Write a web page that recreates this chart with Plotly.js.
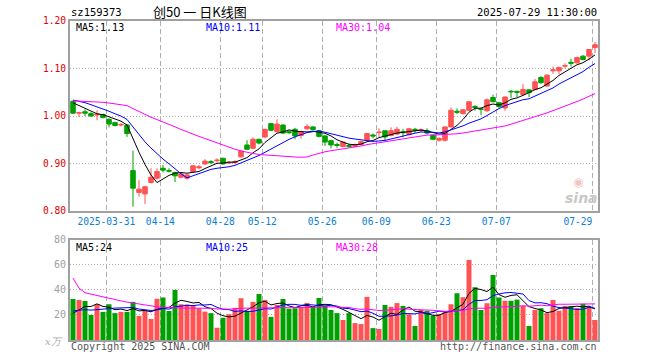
<!DOCTYPE html>
<html><head><meta charset="utf-8">
<script src="https://cdn.plot.ly/plotly-3.0.1.min.js"></script>
<style>html,body{margin:0;padding:0;background:#fff}#chart{width:660px;height:360px}</style>
</head><body><div id="chart"></div>
<script>
// ---- data ----
const dates = ["2025-03-21","2025-03-24","2025-03-25","2025-03-26","2025-03-27","2025-03-28","2025-03-31","2025-04-01","2025-04-02","2025-04-03","2025-04-07","2025-04-08","2025-04-09","2025-04-10","2025-04-11","2025-04-14","2025-04-15","2025-04-16","2025-04-17","2025-04-18","2025-04-21","2025-04-22","2025-04-23","2025-04-24","2025-04-25","2025-04-28","2025-04-29","2025-04-30","2025-05-06","2025-05-07","2025-05-08","2025-05-09","2025-05-12","2025-05-13","2025-05-14","2025-05-15","2025-05-16","2025-05-19","2025-05-20","2025-05-21","2025-05-22","2025-05-23","2025-05-26","2025-05-27","2025-05-28","2025-05-29","2025-05-30","2025-06-03","2025-06-04","2025-06-05","2025-06-06","2025-06-09","2025-06-10","2025-06-11","2025-06-12","2025-06-13","2025-06-16","2025-06-17","2025-06-18","2025-06-19","2025-06-20","2025-06-23","2025-06-24","2025-06-25","2025-06-26","2025-06-27","2025-06-30","2025-07-01","2025-07-02","2025-07-03","2025-07-04","2025-07-07","2025-07-08","2025-07-09","2025-07-10","2025-07-11","2025-07-14","2025-07-15","2025-07-16","2025-07-17","2025-07-18","2025-07-21","2025-07-22","2025-07-23","2025-07-24","2025-07-25","2025-07-28","2025-07-29"];

const open = [1.031,1.006,1.009,1.005,1.002,1.003,0.993,0.986,0.981,0.981,
0.885,0.839,0.836,0.860,0.869,0.890,0.885,0.881,0.871,0.869,
0.883,0.891,0.899,0.904,0.906,0.911,0.901,0.902,0.914,0.939,
0.932,0.951,0.956,0.984,0.967,0.981,0.967,0.972,0.959,0.973,
0.977,0.969,0.958,0.948,0.940,0.936,0.938,0.936,0.940,0.949,
0.960,0.965,0.969,0.959,0.962,0.967,0.961,0.972,0.970,0.969,
0.960,0.949,0.949,0.977,1.010,1.005,1.012,1.020,1.015,1.011,
1.039,1.028,1.017,1.052,1.052,1.045,1.055,1.056,1.081,1.063,
1.095,1.095,1.105,1.113,1.112,1.126,1.126,1.144];

const high = [1.033,1.009,1.014,1.008,1.012,1.005,0.995,0.988,0.985,0.983,
0.927,0.865,0.853,0.890,0.890,0.897,0.890,0.883,0.880,0.879,
0.896,0.897,0.909,0.907,0.911,0.912,0.905,0.907,0.928,0.949,
0.955,0.952,0.973,0.985,0.993,0.982,0.970,0.975,0.969,0.983,
0.978,0.971,0.960,0.950,0.944,0.947,0.941,0.942,0.948,0.964,
0.963,0.974,0.970,0.976,0.977,0.973,0.975,0.975,0.974,0.974,
0.961,0.955,0.978,1.018,1.016,1.015,1.031,1.023,1.016,1.037,
1.045,1.030,1.041,1.055,1.053,1.067,1.056,1.078,1.084,1.088,
1.104,1.104,1.111,1.121,1.125,1.128,1.141,1.156];

const low = [1.004,0.998,1.000,0.998,0.991,0.995,0.976,0.978,0.978,0.956,
0.809,0.830,0.815,0.858,0.866,0.881,0.881,0.861,0.869,0.866,
0.882,0.888,0.897,0.899,0.902,0.898,0.899,0.899,0.912,0.928,
0.930,0.940,0.953,0.968,0.965,0.962,0.962,0.951,0.952,0.971,
0.970,0.955,0.937,0.932,0.933,0.934,0.933,0.934,0.938,0.947,
0.953,0.956,0.948,0.957,0.960,0.955,0.959,0.965,0.966,0.961,
0.949,0.946,0.946,0.976,1.004,1.003,1.011,1.011,1.002,1.009,
1.029,1.017,1.011,1.038,1.040,1.043,1.040,1.054,1.068,1.062,
1.089,1.088,1.100,1.104,1.110,1.117,1.117,1.133];

const close = [1.006,1.007,1.006,1.000,1.004,0.997,0.983,0.980,0.982,0.963,
0.848,0.846,0.851,0.871,0.883,0.886,0.884,0.874,0.878,0.876,
0.895,0.893,0.905,0.902,0.907,0.899,0.902,0.904,0.926,0.930,
0.951,0.943,0.972,0.970,0.983,0.964,0.965,0.958,0.967,0.978,
0.971,0.957,0.945,0.939,0.938,0.945,0.936,0.939,0.946,0.963,
0.958,0.966,0.956,0.969,0.972,0.965,0.973,0.970,0.971,0.964,
0.951,0.953,0.977,1.012,1.008,1.013,1.030,1.018,1.014,1.034,
1.030,1.020,1.040,1.051,1.050,1.056,1.049,1.072,1.070,1.086,
1.097,1.102,1.106,1.111,1.123,1.119,1.140,1.150];

// volume, 万
const volume = [32.8,32.0,31.2,20.0,28.6,22.5,28.6,21.5,22.5,22.5,
30.5,19.3,23.5,16.8,33.0,34.0,23.2,40.0,28.6,28.4,
28.0,25.3,22.7,21.5,9.8,17.8,20.6,25.7,33.4,22.5,
30.5,36.8,32.0,18.5,28.0,32.8,25.0,25.4,25.7,29.6,
26.5,33.6,27.3,24.0,21.5,16.0,21.5,13.5,12.8,34.5,
9.5,8.8,28.0,26.5,29.5,27.3,20.5,11.2,24.2,23.3,
19.6,20.6,22.2,28.6,37.4,34.2,64.0,42.2,24.0,29.4,
52.0,34.0,31.4,31.4,32.3,27.2,11.2,24.0,25.4,21.5,
32.0,23.4,27.2,27.2,25.5,29.0,26.6,16.0];

// the 29 sessions before the first bar (estimated from where the moving averages start)
const preClose = [1.018,1.022,1.020,1.025,1.021,1.028,1.035,1.030,1.026,1.033,
1.038,1.041,1.036,1.030,1.027,1.034,1.040,1.044,1.039,1.035,
1.031,1.037,1.042,1.046,1.040,1.036,1.033,1.030,1.034];
const preVolume = [275,142,55,58,52,58,57,58,52,54,
43,47,41,50,45,36,40,34,29,28,
27,26,24,25,24,19,17,20,18];

const tickDates = ["2025-03-31","2025-04-14","2025-04-28","2025-05-12","2025-05-26","2025-06-09","2025-06-23","2025-07-07","2025-07-29"];
const tickLabels = ["2025-03-31","04-14","04-28","05-12","05-26","06-09","06-23","07-07","07-29\u00a0\u00a0\u00a0\u00a0\u00a0"];

const maLabelsPrice = ["MA5:1.13","MA10:1.11","MA30:1.04"];
const maLabelsVol = ["MA5:24","MA10:25","MA30:28"];

// ---- build ----
const RED = "#ff5252", GREEN = "#00a000";
const MA_COLORS = ["#000000","#0000ff","#ff00ff"];
const xIdx = dates.map((d, i) => i);

function movingAvg(pre, arr, n) {
  const full = pre.concat(arr);
  return arr.map((_, i) => {
    let s = 0;
    for (let k = 0; k < n; k++) s += full[pre.length + i - k];
    return s / n;
  });
}

const gridPos = tickDates.map(d => dates.indexOf(d) - 0.45);
const volColors = close.map((c, i) => c >= open[i] ? RED : GREEN);

const traces = [];
traces.push({
  type: 'candlestick', x: xIdx, open: open, high: high, low: low, close: close,
  xaxis: 'x', yaxis: 'y', whiskerwidth: 0, hoverinfo: 'skip',
  increasing: {line: {color: RED, width: 1}, fillcolor: RED},
  decreasing: {line: {color: GREEN, width: 1}, fillcolor: GREEN}
});
[5, 10, 30].forEach((n, k) => {
  traces.push({type: 'scatter', mode: 'lines', x: xIdx, y: movingAvg(preClose, close, n),
    xaxis: 'x', yaxis: 'y', line: {color: MA_COLORS[k], width: 1}, hoverinfo: 'skip'});
});
traces.push({type: 'bar', x: xIdx, y: volume, xaxis: 'x2', yaxis: 'y2',
  marker: {color: volColors, line: {width: 0}}, hoverinfo: 'skip'});
[5, 10, 30].forEach((n, k) => {
  traces.push({type: 'scatter', mode: 'lines', x: xIdx, y: movingAvg(preVolume, volume, n),
    xaxis: 'x2', yaxis: 'y2', line: {color: MA_COLORS[k], width: 1}, hoverinfo: 'skip'});
});

const MONO = 'DejaVu Sans Mono';
const frame = {showline: true, mirror: true, linecolor: '#a0a0a0', linewidth: 2, zeroline: false, fixedrange: true};
const xCommon = Object.assign({}, frame, {
  range: [-0.5, 87.5], tickmode: 'array', tickvals: gridPos,
  showgrid: true, gridcolor: '#b0b0b0', griddash: '5px,3px', gridwidth: 1, ticks: ''
});

const annotations = [];
function ann(text, x, y, xref, yref, xanchor, color, size, family) {
  annotations.push({text: text, x: x, y: y, xref: xref, yref: yref, xanchor: xanchor, yanchor: 'middle',
    borderpad: 0, showarrow: false, font: {family: family || MONO, size: size || 10, color: color || '#000'}});
}
const maX = [0.0095, 0.2557, 0.502];
maLabelsPrice.forEach((t, k) => ann(t, maX[k], 0.966, 'x domain', 'y domain', 'left', MA_COLORS[k]));
maLabelsVol.forEach((t, k) => ann(t, maX[k], 0.925, 'x2 domain', 'y2 domain', 'left', MA_COLORS[k]));
ann('sz159373', 0, 1.027, 'paper', 'paper', 'left', '#000', 10.5);
ann('创50 一 日K线图', 0.246, 1.03, 'paper', 'paper', 'center', '#000', 13, 'Noto Sans CJK SC');
ann('2025-07-29 11:30:00', 1.0, 1.027, 'paper', 'paper', 'right', '#000', 10.5);
ann('Copyright 2025 SINA.COM', 0, -0.019, 'paper', 'paper', 'left', '#555', 10);
ann('http://finance.sina.com.cn', 1.0, -0.019, 'paper', 'paper', 'right', '#555', 10);
ann('<i>x万</i>', -0.012, -0.004, 'paper', 'paper', 'right', '#aaa', 10, 'DejaVu Serif');
ann('<b><i>sina</i></b>', 0.968, 0.07, 'x domain', 'y domain', 'center', '#c8c8c8', 14, 'DejaVu Sans');
ann('◉', 0.962, 0.15, 'x domain', 'y domain', 'center', '#f3c4c4', 12, 'DejaVu Sans');

const layout = {
  width: 660, height: 360,
  margin: {l: 70, r: 62, t: 21, b: 20},
  paper_bgcolor: '#fff', plot_bgcolor: '#fff',
  showlegend: false, dragmode: false,
  boxgap: 0.25, boxgroupgap: 0, bargap: 0.17,
  xaxis: Object.assign({}, xCommon, {domain: [0, 1], anchor: 'y', ticktext: tickLabels,
    tickfont: {family: MONO, size: 9.6, color: '#0a80d6'}, rangeslider: {visible: false}}),
  yaxis: Object.assign({}, frame, {domain: [0.4044, 1], anchor: 'x', range: [0.8, 1.2],
    tickmode: 'array', tickvals: [0.8, 0.9, 1.0, 1.1, 1.2], ticktext: ['0.80','0.90','1.00','1.10','1.20'],
    tickfont: {family: MONO, size: 9.6, color: '#e00000'}, ticks: '',
    showgrid: true, gridcolor: '#b0b0b0', griddash: '1px,2px'}),
  xaxis2: Object.assign({}, xCommon, {domain: [0, 1], anchor: 'y2', ticktext: tickDates.map(() => ''), showticklabels: false}),
  yaxis2: Object.assign({}, frame, {domain: [0, 0.3135], anchor: 'x2', range: [0, 80],
    tickmode: 'array', tickvals: [20, 40, 60, 80], ticktext: ['20','40','60','80'],
    tickfont: {family: MONO, size: 10, color: '#a0a0a0'}, ticks: '',
    showgrid: true, gridcolor: '#b0b0b0', griddash: '1px,2px'}),
  annotations: annotations
};

Plotly.newPlot('chart', traces, layout, {staticPlot: true, displayModeBar: false});
</script>
</body></html>
